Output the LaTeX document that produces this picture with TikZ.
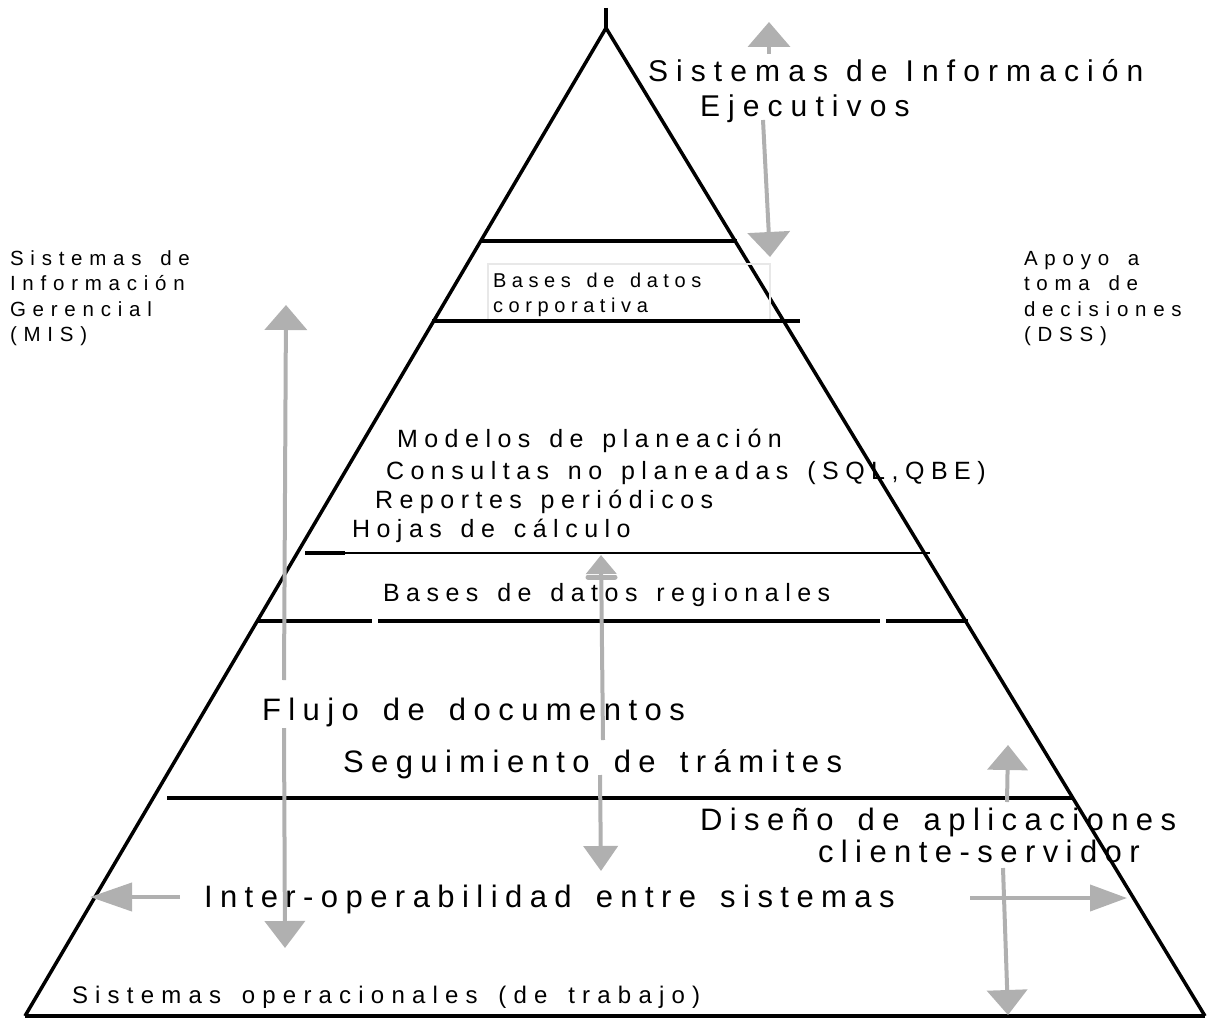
\documentclass[tikz,border=0pt]{standalone}
\usepackage{fontspec}
\usetikzlibrary{arrows.meta}
\newfontfamily\ftop[LetterSpace=27,WordSpace=1.1]{Liberation Sans}
\newfontfamily\fbig[LetterSpace=24,WordSpace=1.5]{Liberation Sans}
\newfontfamily\fmid[LetterSpace=26,WordSpace=1.4]{Liberation Sans}
\newfontfamily\fsma[LetterSpace=33,WordSpace=1.5]{Liberation Sans}
\newfontfamily\fops[LetterSpace=30,WordSpace=1.5]{Liberation Sans}
\newfontfamily\ftin[LetterSpace=28,WordSpace=1.4]{Liberation Sans}
\definecolor{arrowgray}{RGB}{176,176,176}
\definecolor{boxgray}{RGB}{232,232,232}
\tikzset{
  pyr/.style={line width=3.5pt, draw=black, line cap=butt},
  garrow/.style={draw=arrowgray, line width=4pt, -{Triangle[length=25pt,width=42pt]}},
  lbl/.style={anchor=base west, inner sep=0pt, outer sep=0pt},
  bigtxt/.style={lbl, font=\fbig\fontsize{31}{37}\selectfont},
  toptxt/.style={lbl, font=\ftop\fontsize{30}{36}\selectfont},
  midtxt/.style={lbl, font=\fmid\fontsize{25}{30}\selectfont},
  smatxt/.style={lbl, font=\fops\fontsize{24}{28}\selectfont},
  sidetxt/.style={lbl, font=\fsma\fontsize{20.5}{24}\selectfont},
  tintxt/.style={lbl, font=\ftin\fontsize{20}{24}\selectfont},
}
\begin{document}
\begin{tikzpicture}[x=1pt,y=-1pt]
\useasboundingbox (0,0) rectangle (1209,1019);
% pyramid
\coordinate (apexTop) at (606,8);
\coordinate (apex) at (606,28);
\coordinate (bl) at (25,1016);
\coordinate (br) at (1205,1016);
\draw[pyr] (apexTop) -- (apex);
\draw[pyr, line join=miter] (bl) -- (apex) -- (br);
\draw[pyr, line width=4pt] (bl) -- (br);
% layer lines
\coordinate (l1a) at (481,241); \coordinate (l1b) at (737,241);
\draw[pyr] (l1a) -- (l1b);
\coordinate (boxA) at (488,264); \coordinate (boxB) at (770,321);
\draw[boxgray, line width=1.5pt] (boxA) rectangle (boxB);
\coordinate (l2a) at (432,321); \coordinate (l2b) at (800,321);
\draw[pyr] (l2a) -- (l2b);
\coordinate (l3a) at (305,553); \coordinate (l3b) at (930,553); \coordinate (l3c) at (345,553);
\draw[pyr, line width=2.5pt] (l3a) -- (l3b);
\draw[pyr] (l3a) -- (l3c);
\coordinate (l4a) at (258,621); \coordinate (l4b) at (372,621);
\coordinate (l4c) at (378,621); \coordinate (l4d) at (880,621);
\coordinate (l4e) at (886,621); \coordinate (l4f) at (968,621);
\draw[pyr] (l4a) -- (l4b) (l4c) -- (l4d) (l4e) -- (l4f);
\coordinate (l5a) at (167,798); \coordinate (l5b) at (1072,798);
\draw[pyr] (l5a) -- (l5b);
% box text
\node[tintxt] (corp1) at (493,287) {Bases de datos};
\node[tintxt] (corp2) at (493,312) {corporativa};
% arrows
\coordinate (eisUpS) at (769,54); \coordinate (eisUpT) at (769,22);
\draw[garrow] (eisUpS) -- (eisUpT);
\coordinate (eisDnS) at (763,120); \coordinate (eisDnT) at (770,257);
\draw[garrow] (eisDnS) -- (eisDnT);
\coordinate (misUpS) at (284,680); \coordinate (misUpT) at (286,305);
\draw[garrow] (misUpS) -- (misUpT);
\coordinate (misDnS) at (284,728); \coordinate (misDnT) at (285,948);
\draw[garrow, -{Triangle[length=27pt,width=40pt]}] (misDnS) -- (misDnT);
\coordinate (cUpS) at (603,740); \coordinate (cUpT) at (601,555);
\draw[garrow, -{Triangle[length=19pt,width=30pt]}] (cUpS) -- (cUpT);
\coordinate (cBarA) at (588,577); \coordinate (cBarB) at (615,577);
\draw[arrowgray, line width=5pt, line cap=round] (cBarA) -- (cBarB);
\coordinate (cDnS) at (600,775); \coordinate (cDnT) at (601,871);
\draw[garrow, -{Triangle[length=25pt,width=34pt]}] (cDnS) -- (cDnT);
\coordinate (rUpS) at (1007,802); \coordinate (rUpT) at (1008,745);
\draw[garrow, -{Triangle[length=25pt,width=40pt]}] (rUpS) -- (rUpT);
\coordinate (rDnS) at (1003,868); \coordinate (rDnT) at (1008,1015);
\draw[garrow, -{Triangle[length=25pt,width=40pt]}] (rDnS) -- (rDnT);
\coordinate (hLS) at (180,897); \coordinate (hLT) at (90,897);
\draw[garrow, -{Triangle[length=42pt,width=28pt]}] (hLS) -- (hLT);
\coordinate (hRS) at (970,898); \coordinate (hRT) at (1127,898);
\draw[garrow, -{Triangle[length=37pt,width=26pt]}] (hRS) -- (hRT);
% texts
\node[toptxt] (eis1) at (648,82) {Sistemas de Información};
\node[toptxt] (eis2) at (700,117) {Ejecutivos};
\node[midtxt] (mod1) at (397,447) {Modelos de planeación};
\node[midtxt] (mod2) at (386,479) {Consultas no planeadas (SQL,QBE)};
\node[midtxt] (mod3) at (375,508) {Reportes periódicos};
\node[midtxt] (mod4) at (352,537) {Hojas de cálculo};
\node[midtxt] (reg) at (383,601) {Bases de datos regionales};
\node[bigtxt] (flujo) at (262,720) {Flujo de documentos};
\node[bigtxt] (seg) at (343,772) {Seguimiento de trámites};
\node[bigtxt] (dis1) at (700,830) {Diseño de aplicaciones};
\node[bigtxt] (dis2) at (818,862) {cliente-servidor};
\node[bigtxt] (inter) at (204,907) {Inter-operabilidad entre sistemas};
\node[smatxt] (ops) at (72,1003) {Sistemas operacionales (de trabajo)};
\node[sidetxt] (mis1) at (10,265) {Sistemas de};
\node[sidetxt] (mis2) at (10,290) {Información};
\node[sidetxt] (mis3) at (10,316) {Gerencial};
\node[sidetxt] (mis4) at (10,341) {(MIS)};
\node[sidetxt] (dss1) at (1024,265) {Apoyo a};
\node[sidetxt] (dss2) at (1024,290) {toma de};
\node[sidetxt] (dss3) at (1024,316) {decisiones};
\node[sidetxt] (dss4) at (1024,341) {(DSS)};
\end{tikzpicture}
\end{document}
